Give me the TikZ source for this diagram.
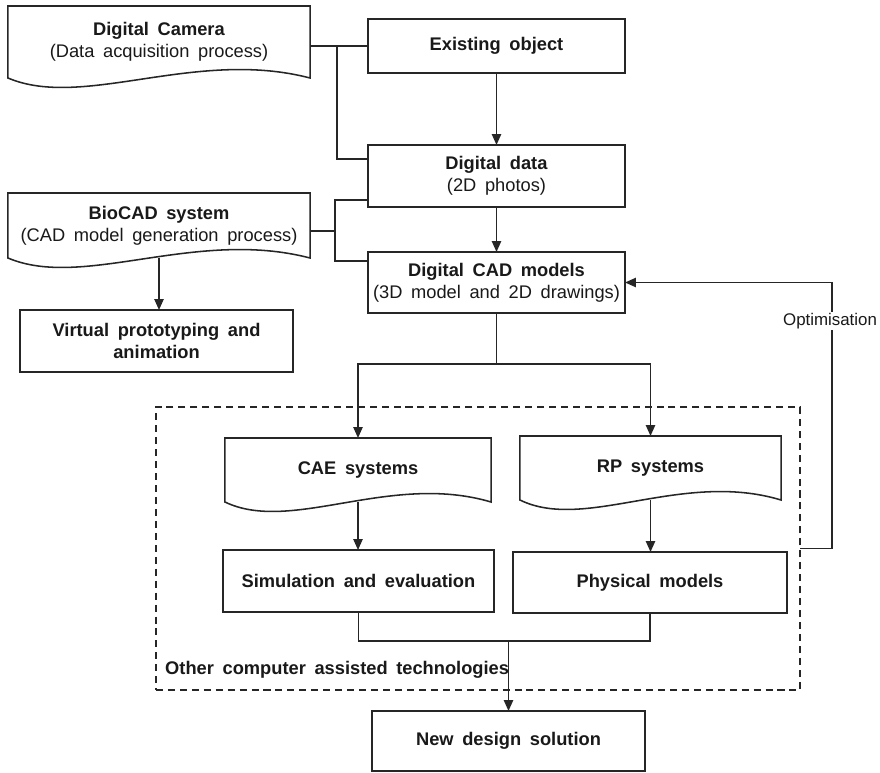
\documentclass[tikz,border=0pt]{standalone}
\usepackage{fontspec}
\setmainfont{Liberation Sans}[WordSpace=1.7]
\usetikzlibrary{arrows.meta,calc}
\tikzset{
  linea/.style={
    line width=1.1pt,
    black!85
  },
  proceso/.style={
    draw=black!85,
    line width=1.1pt,
    fill=white,
    align=center,
    inner sep=3pt,
    outer sep=0pt,
    text=black!90,
    font=\fontsize{13}{15.5}\selectfont
  },
  hoja/.style={
    proceso,
    draw=none,
    fill=none
  },
  marco/.style={
    draw=black!85,
    line width=1.1pt,
    dash pattern=on 5pt off 3.5pt,
    inner sep=0pt,
    outer sep=0pt
  },
  arrow/.style={
    -{Triangle[length=2.7mm,width=2.3mm]},
    linea
  }
}
\newcommand{\hojaborde}[1]{%
  \draw[linea] (#1.south west) -- (#1.north west) -- (#1.north east) -- (#1.south east)
    .. controls ($(#1.south west)!0.62!(#1.south east)+(0,0.75cm)$)
       and ($(#1.south west)!0.25!(#1.south east)+(0,-0.8cm)$) .. (#1.south west) -- cycle;}

\begin{document}
\begin{tikzpicture}[x=0.025cm,y=-0.025cm]
\useasboundingbox (0,0) rectangle (880,773);
\node[hoja, minimum width=7.55cm, minimum height=1.8cm] (camara) at (159,42) {\textbf{Digital Camera}\\(Data acquisition process)};
\node[proceso, minimum width=6.425cm, minimum height=1.35cm] (objeto) at (496.5,46) {\textbf{Existing object}};
\node[proceso, minimum width=6.425cm, minimum height=1.55cm] (datos) at (496.5,176) {\textbf{Digital data}\\(2D photos)};
\node[proceso, minimum width=6.425cm, minimum height=1.525cm] (cad) at (496.5,282.5) {\textbf{Digital CAD models}\\(3D model and 2D drawings)};
\node[hoja, minimum width=7.55cm, minimum height=1.625cm] (biocad) at (159,225.5) {\textbf{BioCAD system}\\(CAD model generation process)};
\node[proceso, minimum width=6.825cm, minimum height=1.55cm] (virtual) at (156.5,341) {\textbf{Virtual prototyping and}\\\textbf{animation}};
\node[marco, minimum width=16.1cm, minimum height=7.075cm] (otras) at (478,548.5) {};
\node[hoja, minimum width=6.65cm, minimum height=1.6cm] (cae) at (358,470) {\textbf{CAE systems}};
\node[hoja, minimum width=6.525cm, minimum height=1.6cm] (rp) at (650.5,468) {\textbf{RP systems}};
\node[proceso, minimum width=6.775cm, minimum height=1.55cm] (simulacion) at (358.5,581) {\textbf{Simulation and evaluation}};
\node[proceso, minimum width=6.85cm, minimum height=1.525cm] (fisicos) at (650,582.5) {\textbf{Physical models}};
\node[proceso, minimum width=6.825cm, minimum height=1.5cm] (nuevo) at (508.5,741) {\textbf{New design solution}};
\node[hoja, anchor=west] (etiqueta) at (161,670) {\textbf{Other computer assisted technologies}};
\hojaborde{camara}
\hojaborde{biocad}
\hojaborde{cae}
\hojaborde{rp}
\coordinate (j1) at (337,46);
\coordinate (j2) at (335,231);
\coordinate (reparto) at (496.5,364);
\coordinate (union) at (508.5,641);
\coordinate (retorno) at (832,0);
\draw[linea] (camara.east |- objeto.west) -- (objeto.west);
\draw[linea] (j1) |- ([yshift=0.425cm]datos.west);
\draw[linea] (biocad.east |- j2) -- (j2);
\draw[linea] ([yshift=-0.6cm]datos.west) -| (j2) |- ([yshift=0.54cm]cad.west);
\draw[arrow] (objeto) -- (datos);
\draw[arrow] (datos) -- (cad);
\draw[arrow] (biocad.south) -- (biocad.south |- virtual.north);
\draw[linea] (cad) -- (reparto);
\draw[arrow] (reparto) -| (cae.north);
\draw[arrow] (reparto) -| (rp.north);
\draw[arrow] (cae.south) -- (cae.south |- simulacion.north);
\draw[arrow] (rp.south) -- (rp.south |- fisicos.north);
\draw[linea] (simulacion.south) |- (union) -| (fisicos.south);
\draw[arrow] (union) -- (nuevo);
\draw[arrow] (otras.east) -| (cad.east -| retorno) -- (cad.east);
\node[fill=white, inner sep=1pt, text=black!90, font=\fontsize{12}{14}\selectfont] (optimizacion) at (830,321) {Optimisation};
\end{tikzpicture}
\end{document}
